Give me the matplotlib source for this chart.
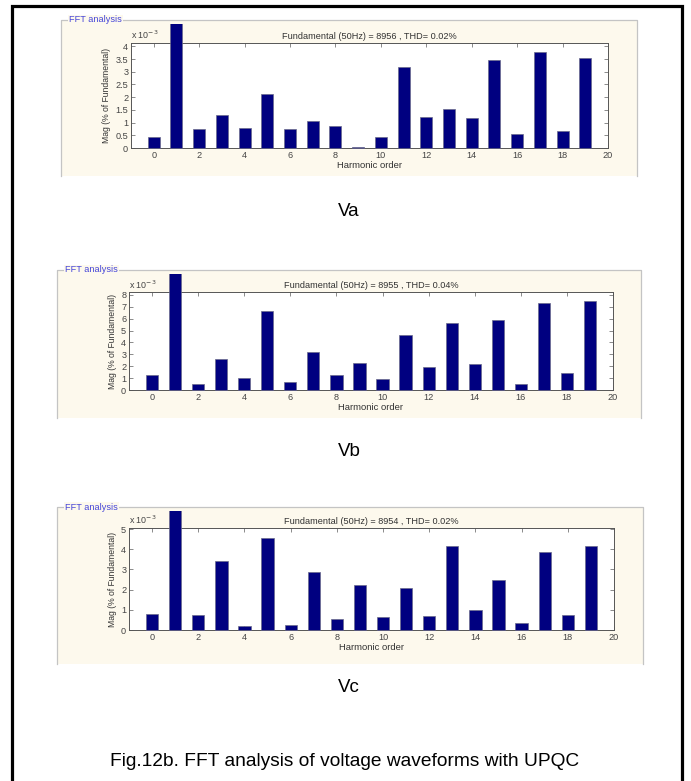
import matplotlib
matplotlib.use("Agg")
import matplotlib.pyplot as plt
from matplotlib.patches import Rectangle
from matplotlib.lines import Line2D
from matplotlib.ticker import FuncFormatter, MultipleLocator
import numpy as np

plt.rcParams["font.family"] = ["Liberation Sans", "DejaVu Sans"]

W, H = 691, 781

harmonics = np.arange(20)
fundamental_pct = 100.0  # harmonic 1 is the fundamental itself

# harmonic magnitudes, in units of 1e-3 % of fundamental
va_mag = [0.44, None, 0.73, 1.28, 0.79, 2.11, 0.74, 1.07, 0.85, 0.04,
          0.42, 3.19, 1.21, 1.53, 1.17, 3.45, 0.54, 3.78, 0.66, 3.55]
vb_mag = [1.23, None, 0.50, 2.60, 1.03, 6.62, 0.64, 3.19, 1.26, 2.24,
          0.92, 4.59, 1.93, 5.68, 2.21, 5.87, 0.50, 7.30, 1.40, 7.52]
vc_mag = [0.78, None, 0.73, 3.40, 0.21, 4.55, 0.25, 2.85, 0.54, 2.21,
          0.64, 2.10, 0.68, 4.14, 1.01, 2.46, 0.35, 3.86, 0.74, 4.14]

fund_hz = [8956, 8955, 8954]
thd = [0.02, 0.04, 0.02]
names = ["Va", "Vb", "Vc"]
mags = [va_mag, vb_mag, vc_mag]
ystep = [0.5, 1, 1]
ytop = [4.13, 8.25, 5.05]

# pixel boxes: panel (x0, y0, x1, y1), axes (x0, y0, x1, y1), caption y
panels = [(61, 20, 637, 176), (57, 270, 641, 418), (57, 507, 643, 664)]
axboxes = [(131, 43, 608, 148), (129, 292, 613, 390), (129, 528, 614, 630)]
cap_y = [212, 452, 687]

PANEL_BG = "#fdf9ed"
PANEL_EDGE = "#c4c4c4"
BAR = "#000080"


def fx(x):
    return x / W


def fy(y):
    return 1 - y / H


fig = plt.figure(figsize=(W / 100, H / 100), dpi=100)
fig.patch.set_facecolor("white")

# outer frame
fig.add_artist(Rectangle((fx(12), fy(800)), fx(682) - fx(12), fy(6) - fy(800),
                         transform=fig.transFigure, fill=False,
                         edgecolor="black", linewidth=2.3))

for i in range(3):
    px0, py0, px1, py1 = panels[i]
    # beige panel background and etched border (left, top, right)
    fig.add_artist(Rectangle((fx(px0), fy(py1)), fx(px1) - fx(px0), fy(py0) - fy(py1),
                             transform=fig.transFigure, facecolor=PANEL_BG,
                             edgecolor="none", zorder=0))
    fig.add_artist(Line2D([fx(px0), fx(px0), fx(px1), fx(px1)],
                          [fy(py1), fy(py0), fy(py0), fy(py1)],
                          transform=fig.transFigure, color=PANEL_EDGE,
                          linewidth=0.9, zorder=1))
    fig.text(fx(px0 + 8), fy(py0), "FFT analysis", color="#4646d8",
             fontsize=6.6, va="center", ha="left", zorder=3,
             bbox=dict(facecolor=PANEL_BG, edgecolor="none", pad=0.6))

    ax0, ay0, ax1, ay1 = axboxes[i]
    ax = fig.add_axes([fx(ax0), fy(ay1), fx(ax1) - fx(ax0), fy(ay0) - fy(ay1)])
    ax.set_facecolor("white")

    vals = np.array([fundamental_pct if v is None else v * 1e-3 for v in mags[i]])
    bars = ax.bar(harmonics, vals, width=0.53, color=BAR,
                  edgecolor="#6a6a8a", linewidth=0.5, zorder=3)
    # fundamental bar runs off the axes, cut at the panel edge
    clip = Rectangle((fx(px0), fy(py1)), fx(px1) - fx(px0), fy(py0 + 4) - fy(py1),
                     transform=fig.transFigure, visible=False)
    fig.add_artist(clip)
    for b in bars:
        b.set_clip_path(clip)

    ax.set_xlim(-1, 20)
    ax.set_ylim(0, ytop[i] * 1e-3)
    ax.set_xticks(np.arange(0, 21, 2))
    ax.yaxis.set_major_locator(MultipleLocator(ystep[i] * 1e-3))
    ax.yaxis.set_major_formatter(FuncFormatter(lambda v, p: f"{v * 1e3:g}"))
    ax.tick_params(direction="in", length=3, width=0.6, color="#777777",
                   labelsize=6.6, labelcolor="#444444", pad=2,
                   top=True, right=True)
    for s in ax.spines.values():
        s.set_color("#555555")
        s.set_linewidth(0.7)

    ax.set_xlabel("Harmonic order", fontsize=6.8, color="#333333", labelpad=1)
    ax.set_ylabel("Mag (% of Fundamental)", fontsize=6.2, color="#333333", labelpad=3)
    ax.set_title(f"Fundamental (50Hz) = {fund_hz[i]} , THD= {thd[i]:.2f}%",
                 fontsize=6.6, color="#333333", pad=3)
    ax.text(0.0, 1.015, r"x 10$^{-3}$", transform=ax.transAxes, fontsize=6.4,
            color="#444444", ha="left", va="bottom")

    fig.text(fx(349), fy(cap_y[i]), names[i], fontsize=13.5, ha="center", va="center")

fig.text(fx(345), fy(761), "Fig.12b. FFT analysis of voltage waveforms with UPQC",
         fontsize=13.8, ha="center", va="center")

fig.savefig("out.png", dpi=100)
